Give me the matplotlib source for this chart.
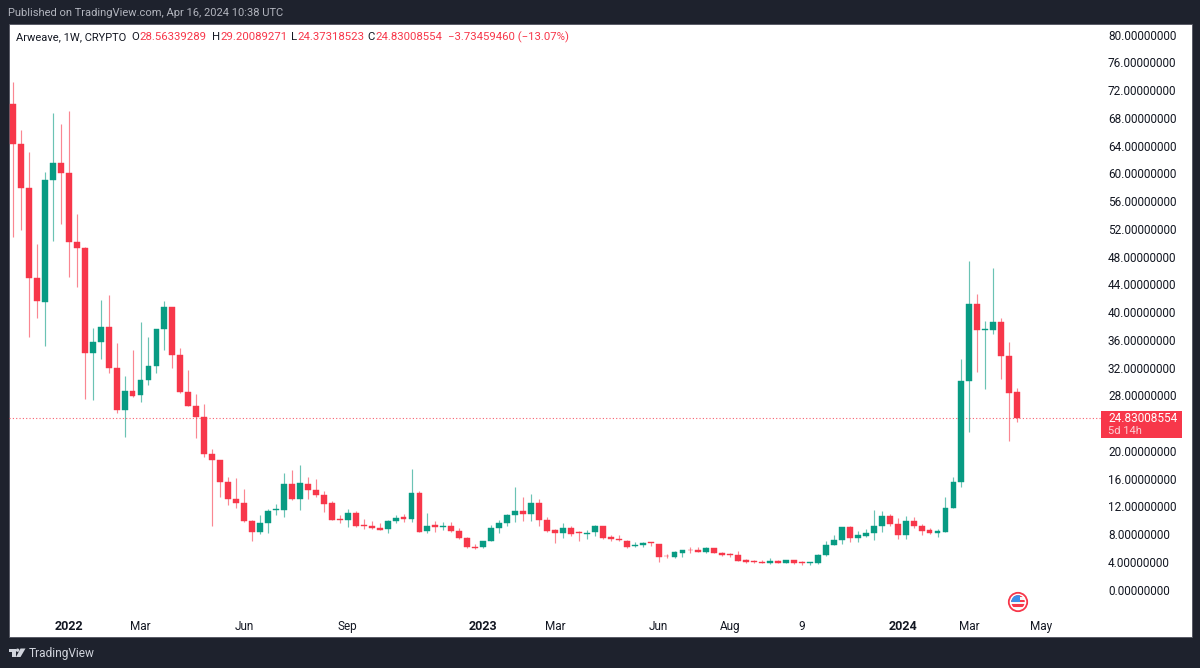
import matplotlib
matplotlib.use("Agg")
import matplotlib.pyplot as plt
from matplotlib.patches import Rectangle, Circle, Polygon
from matplotlib.transforms import ScaledTranslation

plt.rcParams['font.family'] = ['Roboto', 'DejaVu Sans']

opens = [70.13, 64.32, 57.98, 45.01, 41.65, 59.23, 61.63, 60.14, 50.29, 49.38,
         34.30, 35.88, 37.95, 32.14, 26.04, 28.78, 28.20, 30.36, 32.38, 37.66,
         40.83, 33.92, 28.63, 26.66, 25.08, 19.70, 18.78, 15.66, 13.26, 12.59,
         10.00, 8.51, 9.75, 11.63, 11.63, 15.33, 13.21, 15.37, 14.56, 13.79,
         12.59, 10.28, 10.24, 11.15, 9.47, 9.27, 8.99, 8.84, 10.00, 10.57,
         10.33, 14.13, 8.60, 9.47, 9.23, 9.27, 8.65, 7.64, 6.34, 6.25,
         7.11, 8.98, 9.71, 10.91, 11.48, 11.05, 12.59, 10.19, 8.70, 8.31,
         9.03, 8.41, 8.17, 8.41, 9.37, 7.74, 7.50, 7.21, 6.39, 6.58,
         6.97, 6.77, 5.05, 4.85, 5.43, 5.91, 5.82, 5.62, 6.10, 5.48,
         5.29, 5.10, 4.38, 4.28, 4.14, 4.04, 4.28, 4.04, 4.38, 4.09,
         3.94, 3.94, 5.14, 6.58, 7.26, 9.13, 7.64, 7.93, 8.27, 9.32,
         10.76, 9.56, 7.98, 10.04, 9.37, 8.70, 8.36, 8.50, 11.96, 15.61,
         30.21, 41.26, 37.56, 37.56, 38.72, 33.82, 28.56339289]
highs = [73.25, 66.38, 63.17, 49.96, 60.33, 68.79, 67.25, 69.12, 54.28, 49.57,
         37.81, 41.89, 42.56, 35.64, 30.94, 34.68, 38.72, 36.60, 37.66, 41.74,
         40.83, 34.92, 31.80, 28.39, 26.90, 20.37, 18.78, 16.33, 16.24, 14.70,
         10.19, 10.86, 11.72, 12.49, 16.91, 17.39, 18.11, 16.33, 16.09, 14.32,
         12.97, 10.96, 11.72, 11.53, 10.28, 10.04, 9.71, 10.19, 10.86, 11.05,
         17.54, 14.37, 11.15, 10.09, 9.85, 9.85, 8.99, 7.69, 6.73, 7.11,
         9.46, 10.19, 11.00, 14.89, 13.55, 13.93, 13.16, 10.67, 8.94, 9.75,
         9.27, 8.65, 8.70, 9.46, 9.37, 8.02, 7.98, 7.26, 7.02, 7.06,
         7.06, 6.77, 5.24, 5.67, 5.91, 6.25, 6.34, 6.25, 6.15, 5.62,
         5.48, 5.77, 4.52, 4.42, 4.38, 4.66, 4.47, 4.47, 4.42, 4.23,
         4.14, 5.24, 7.11, 7.98, 9.13, 9.32, 8.65, 8.84, 11.63, 11.44,
         11.05, 10.43, 10.76, 10.57, 9.56, 8.99, 8.94, 13.45, 16.43, 33.34,
         47.55, 42.75, 38.91, 46.45, 39.34, 35.83, 29.20089271]
lows = [50.92, 51.97, 36.60, 39.25, 35.26, 50.39, 52.84, 45.25, 43.71, 27.62,
        27.48, 33.43, 31.32, 25.56, 22.19, 27.91, 27.24, 29.59, 31.32, 34.68,
        32.09, 28.54, 26.66, 21.96, 19.31, 9.37, 13.55, 12.30, 11.92, 9.95,
        7.11, 8.17, 8.27, 10.96, 10.57, 13.07, 11.63, 13.21, 13.50, 11.39,
        10.19, 9.80, 9.23, 9.23, 8.89, 8.89, 8.75, 8.31, 9.80, 9.95,
        9.95, 8.46, 8.31, 8.51, 8.79, 8.51, 7.50, 6.20, 6.01, 6.20,
        7.11, 8.36, 9.32, 9.85, 10.09, 10.09, 9.37, 8.46, 6.92, 7.54,
        7.93, 7.21, 7.50, 7.93, 7.50, 7.16, 7.16, 6.15, 6.25, 6.30,
        6.39, 4.13, 4.76, 4.76, 4.85, 5.43, 5.53, 5.48, 5.38, 5.05,
        4.86, 4.23, 3.99, 3.99, 3.94, 3.80, 3.94, 3.99, 3.90, 3.75,
        3.66, 3.90, 5.05, 6.54, 6.73, 7.07, 7.07, 7.79, 7.31, 8.51,
        9.32, 7.45, 7.50, 9.08, 8.07, 8.22, 7.74, 8.46, 11.87, 14.99,
        22.91, 31.51, 29.06, 36.99, 30.55, 21.52, 24.37318523]
closes = [64.32, 57.98, 45.01, 41.79, 59.18, 61.63, 60.14, 50.29, 49.33, 34.30,
          35.88, 37.95, 32.14, 26.04, 28.78, 28.10, 30.36, 32.38, 37.66, 40.83,
          33.92, 28.63, 26.66, 25.08, 19.70, 18.78, 15.66, 13.26, 12.59, 10.00,
          8.51, 9.75, 11.48, 11.72, 15.33, 13.21, 15.47, 14.56, 13.79, 12.54,
          10.19, 10.14, 11.15, 9.37, 9.37, 9.03, 8.79, 10.04, 10.52, 10.33,
          14.13, 8.51, 9.37, 9.18, 9.37, 8.65, 7.64, 6.25, 6.20, 7.11,
          9.08, 9.71, 10.91, 11.48, 11.05, 12.59, 10.19, 8.60, 8.31, 8.98,
          8.22, 8.31, 8.31, 9.37, 7.59, 7.45, 7.26, 6.30, 6.58, 6.92,
          6.82, 4.90, 4.95, 5.53, 5.81, 5.81, 5.62, 6.10, 5.43, 5.14,
          5.19, 4.33, 4.14, 4.09, 4.04, 4.28, 4.04, 4.38, 3.94, 3.94,
          4.09, 5.14, 6.63, 7.26, 9.13, 7.64, 8.03, 8.31, 9.32, 10.76,
          9.56, 7.98, 10.04, 9.37, 8.65, 8.36, 8.60, 11.96, 15.61, 30.21,
          41.26, 37.56, 37.66, 38.72, 33.82, 28.53, 24.83008554]

# 24 is covered by the last price box in the original
price_ticks = [0, 4, 8, 12, 16, 20, 28, 32, 36, 40, 44, 48, 52, 56, 60, 64, 68, 72, 76, 80]
time_ticks = [7, 16, 29, 42, 59, 68, 81, 90, 99, 111.7, 120, 129]
time_labels = ['2022', 'Mar', 'Jun', 'Sep', '2023', 'Mar', 'Jun', 'Aug', '9', '2024', 'Mar', 'May']
bold_labels = ['2022', '2023', '2024']

UP = '#089b83'
DOWN = '#f7374a'
DARK = '#1e222d'
W, H = 1200, 668

fig = plt.figure(figsize=(W / 100, H / 100), dpi=100, facecolor=DARK)


def pixel_axes(zorder):
    a = fig.add_axes([0, 0, 1, 1], zorder=zorder)
    a.set_xlim(0, W)
    a.set_ylim(H, 0)
    a.axis('off')
    a.patch.set_alpha(0)
    return a


# white panel
back = pixel_axes(0)
back.add_patch(Rectangle((9, 24), 1183, 613, fc='white', ec='#50535e', lw=0.6))

# price pane, scale is 6.94 px per unit and 7.97 px per bar
left, right, top, bottom = 9, 1101, 24, 612
ax = fig.add_axes([left / W, 1 - bottom / H, (right - left) / W, (bottom - top) / H], zorder=1)
ax.patch.set_alpha(0)
ax.set_xlim((left - 13) / 7.97, (right - 13) / 7.97)
ax.set_ylim((590.7 - bottom) / 6.94, (590.7 - top) / 6.94)
for s in ax.spines.values():
    s.set_visible(False)

ax.axhline(closes[-1], color=DOWN, lw=0.8, ls=(0, (1, 2)), alpha=0.8, zorder=1)

for i in range(len(opens)):
    col = UP if closes[i] >= opens[i] else DOWN
    ax.vlines(i, lows[i], highs[i], color=col, lw=0.85, alpha=0.6, zorder=2)
    ax.bar(i, abs(closes[i] - opens[i]), bottom=min(opens[i], closes[i]), width=0.74,
           color=col, edgecolor=col, lw=0.3, zorder=3)

ax.yaxis.tick_right()
ax.set_yticks(price_ticks)
ax.set_yticklabels([f'{p:.8f}' for p in price_ticks])
ax.tick_params(axis='y', length=0, pad=5, labelsize=8.5, labelcolor='#131722')
up_1px = ScaledTranslation(0, 1 / 100, fig.dpi_scale_trans)
for lab in ax.get_yticklabels():
    lab.set_transform(lab.get_transform() + up_1px)
ax.set_xticks(time_ticks)
ax.set_xticklabels(time_labels)
ax.tick_params(axis='x', length=0, pad=5.5, labelsize=8.5, labelcolor='#131722')
for lab in ax.get_xticklabels():
    if lab.get_text() in bold_labels:
        lab.set_fontweight('bold')
        lab.set_fontsize(9)

# text and furniture in pixel coordinates
over = pixel_axes(2)
over.text(8, 13, 'Published on TradingView.com, Apr 16, 2024 10:38 UTC', color='#b2b5be',
          fontsize=8.05, va='center')

legend_y = 37
over.text(15.7, legend_y, 'Arweave, 1W, CRYPTO', color='#131722', fontsize=8, va='center')
for x, txt, col in [(131, 'O', '#131722'), (139.3, '28.56339289', DOWN),
                    (212.4, 'H', '#131722'), (220.4, '29.20089271', DOWN),
                    (290.8, 'L', '#131722'), (297.4, '24.37318523', DOWN),
                    (367.8, 'C', '#131722'), (375, '24.83008554', DOWN),
                    (447.8, '\u22123.73459460 (\u221213.07%)', DOWN)]:
    over.text(x, legend_y, txt, color=col, fontsize=8.2, va='center')

# last price box
over.add_patch(Rectangle((1101, 411), 81, 27, fc=DOWN, ec='none'))
over.text(1108, 418, f'{closes[-1]:.8f}', color='white', fontsize=8.5, va='center')
over.text(1108, 431, '5d 14h', color='#fbd0d4', fontsize=8, va='center')

# calendar flag icon
ring = Circle((1018, 602), 9.2, fc='white', ec=DOWN, lw=1.3)
over.add_patch(ring)
clip = Circle((1018, 602), 6.8, transform=over.transData)
for y0, h, c in [(595, 2.3, DOWN), (597.3, 2.3, '#f7f7f7'), (599.6, 2.3, DOWN),
                 (601.9, 2.4, '#f7f7f7'), (604.3, 2.4, DOWN), (606.7, 2.3, '#f7f7f7')]:
    r = over.add_patch(Rectangle((1011, y0), 14, h, fc=c, ec='none'))
    r.set_clip_path(clip)
r = over.add_patch(Rectangle((1011, 595), 9, 6.9, fc='#3b8fea', ec='none'))
r.set_clip_path(clip)

# logo
logo = '#d1d4dc'
over.add_patch(Polygon([(8.5, 648.5), (15.5, 648.5), (15.5, 657), (12, 657), (12, 652), (8.5, 652)],
                       fc=logo, ec='none'))
over.add_patch(Circle((17.6, 650.2), 1.7, fc=logo, ec='none'))
over.add_patch(Polygon([(20.5, 648.5), (25.5, 648.5), (20.5, 657), (16, 657)], fc=logo, ec='none'))
over.text(29, 653, 'TradingView', color=logo, fontsize=8.6, va='center')

fig.savefig('out.png', dpi=100, facecolor=DARK)
